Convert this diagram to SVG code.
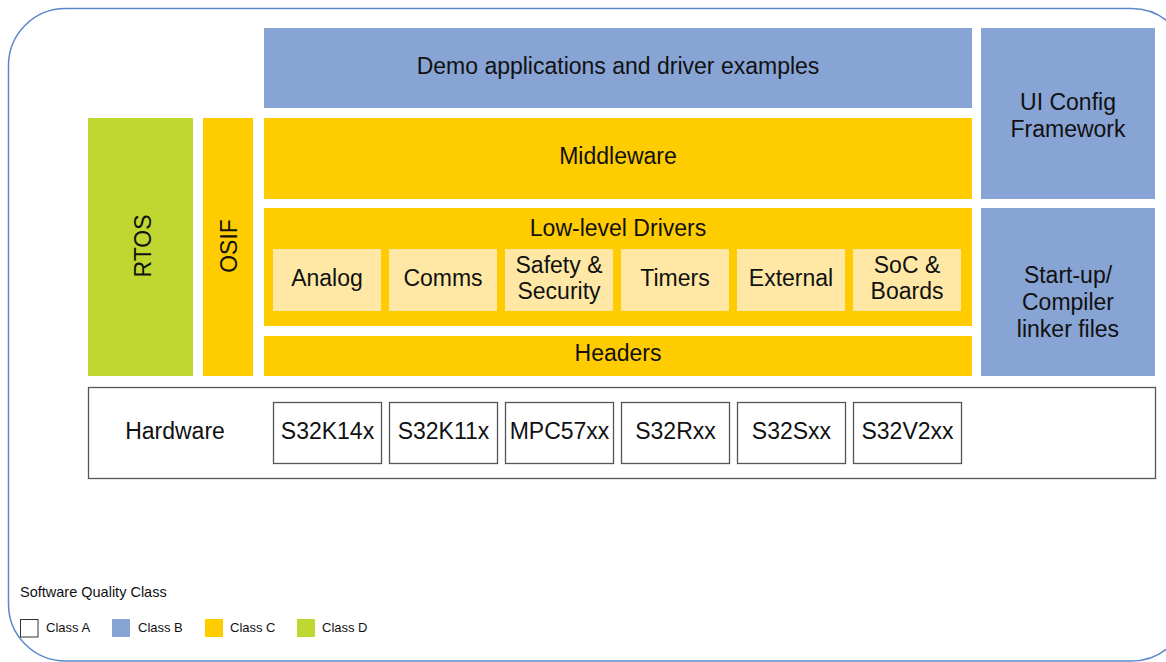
<svg xmlns="http://www.w3.org/2000/svg" width="1166" height="662" viewBox="0 0 1166 662">
<style>
text{font-family:"Liberation Sans",Arial,sans-serif;fill:#111;}
.t{font-size:23px;text-anchor:middle;}
.b{fill:#87A4D5;}
.y{fill:#FFCC00;}
.g{fill:#BFD730;}
.ly{fill:#FFE8A6;}
.w{fill:#fff;stroke:#555;stroke-width:1.3;}
.lg{font-size:13px;}
</style>
<rect x="8.5" y="8.5" width="1180" height="652.5" rx="57" ry="57" fill="#fff" stroke="#5B88CA" stroke-width="1.5"/>
<g id="demo"><rect class="b" x="264" y="28" width="708" height="80"/><text class="t" x="618" y="74">Demo applications and driver examples</text></g>
<g id="uiconfig"><rect class="b" x="981" y="28" width="174" height="171"/><text class="t" x="1068" y="110">UI Config</text><text class="t" x="1068" y="137">Framework</text></g>
<g id="startup"><rect class="b" x="981" y="208" width="174" height="168"/><text class="t" x="1068" y="283">Start-up/</text><text class="t" x="1068" y="310">Compiler</text><text class="t" x="1068" y="337">linker files</text></g>
<g id="rtos"><rect class="g" x="88" y="118" width="105" height="258"/><text class="t" transform="translate(151,246) rotate(-90)">RTOS</text></g>
<g id="osif"><rect class="y" x="203" y="118" width="50" height="258"/><text class="t" transform="translate(237,246) rotate(-90)">OSIF</text></g>
<g id="middleware"><rect class="y" x="264" y="118" width="708" height="81"/><text class="t" x="618" y="164">Middleware</text></g>
<g id="lld"><rect class="y" x="264" y="208" width="708" height="118"/><text class="t" x="618" y="236">Low-level Drivers</text></g>
<g id="analog"><rect class="ly" x="273" y="249" width="108" height="62"/><text class="t" x="327" y="286">Analog</text></g>
<g id="comms"><rect class="ly" x="389" y="249" width="108" height="62"/><text class="t" x="443" y="286">Comms</text></g>
<g id="safety"><rect class="ly" x="505" y="249" width="108" height="62"/><text class="t" x="559" y="273">Safety &amp;</text><text class="t" x="559" y="299">Security</text></g>
<g id="timers"><rect class="ly" x="621" y="249" width="108" height="62"/><text class="t" x="675" y="286">Timers</text></g>
<g id="external"><rect class="ly" x="737" y="249" width="108" height="62"/><text class="t" x="791" y="286">External</text></g>
<g id="soc"><rect class="ly" x="853" y="249" width="108" height="62"/><text class="t" x="907" y="273">SoC &amp;</text><text class="t" x="907" y="299">Boards</text></g>
<g id="headers"><rect class="y" x="264" y="336" width="708" height="40"/><text class="t" x="618" y="361">Headers</text></g>
<g id="hardware"><rect class="w" x="88.5" y="387.5" width="1067" height="91"/><text class="t" x="175" y="439">Hardware</text></g>
<g id="s32k14x"><rect class="w" x="273.5" y="402.5" width="108" height="61"/><text class="t" x="327.5" y="439">S32K14x</text></g>
<g id="s32k11x"><rect class="w" x="389.5" y="402.5" width="108" height="61"/><text class="t" x="443.5" y="439">S32K11x</text></g>
<g id="mpc57xx"><rect class="w" x="505.5" y="402.5" width="108" height="61"/><text class="t" x="559.5" y="439">MPC57xx</text></g>
<g id="s32rxx"><rect class="w" x="621.5" y="402.5" width="108" height="61"/><text class="t" x="675.5" y="439">S32Rxx</text></g>
<g id="s32sxx"><rect class="w" x="737.5" y="402.5" width="108" height="61"/><text class="t" x="791.5" y="439">S32Sxx</text></g>
<g id="s32v2xx"><rect class="w" x="853.5" y="402.5" width="108" height="61"/><text class="t" x="907.5" y="439">S32V2xx</text></g>
<g id="connectors"></g>
<g id="legend">
<text x="20" y="597" style="font-size:14.5px">Software Quality Class</text>
<rect x="20.5" y="619.5" width="17.5" height="17.5" fill="#fff" stroke="#333" stroke-width="1"/>
<text class="lg" x="46" y="632">Class A</text>
<rect class="b" x="112" y="619" width="18" height="18"/>
<text class="lg" x="138" y="632">Class B</text>
<rect class="y" x="205" y="619" width="18" height="18"/>
<text class="lg" x="230" y="632">Class C</text>
<rect class="g" x="297" y="619" width="18" height="18"/>
<text class="lg" x="322" y="632">Class D</text>
</g>
</svg>
